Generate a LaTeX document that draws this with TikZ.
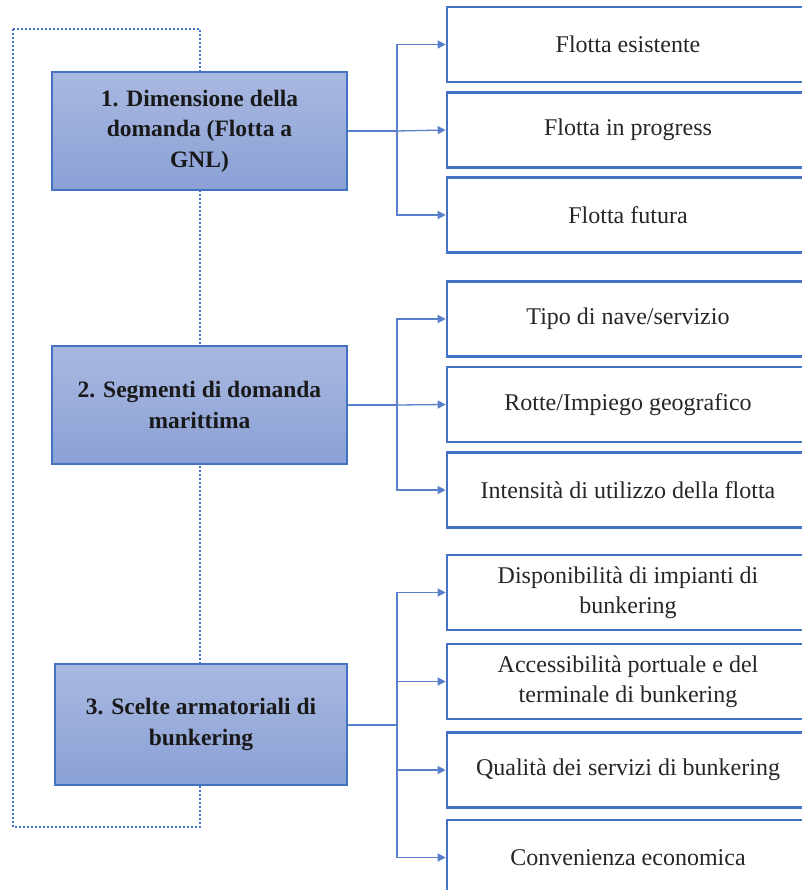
\documentclass[tikz,border=0pt]{standalone}
\usepackage{fontspec}
\setmainfont{Liberation Serif}
\usetikzlibrary{arrows.meta}
\definecolor{bord}{HTML}{4472C4}
\definecolor{conn}{HTML}{5A80CC}
\definecolor{topc}{HTML}{A9B8E0}
\definecolor{botc}{HTML}{8AA1D6}
\tikzset{
  mainbox/.style={draw=bord, line width=2pt, top color=topc, bottom color=botc,
    minimum width=295pt, minimum height=118pt, inner sep=0pt, align=center,
    font=\fontsize{23.5}{30.5}\selectfont\bfseries, text=black!90},
  subbox/.style={draw=bord, line width=2.6pt, fill=white,
    minimum width=362pt, minimum height=75pt, inner sep=0pt, align=center,
    font=\fontsize{24}{30}\selectfont, text=black!85},
  conline/.style={draw=conn, line width=1.3pt},
  arr/.style={conline, -{Triangle[length=8pt,width=8pt]}},
  frame/.style={draw=bord, line width=2.2pt, dash pattern=on 2pt off 2pt}
}
\begin{document}
\begin{tikzpicture}[x=1pt,y=-1pt]
\useasboundingbox (0,0) rectangle (801,890);
\fill[white] (0,0) rectangle (801,890);
% dotted frame
\draw[frame] (13,29) rectangle (200,827);
% main boxes
\node[mainbox] (m1) at (199.5,131) {1. Dimensione della\\domanda (Flotta a\\GNL)};
\node[mainbox] (m2) at (199.5,405) {2. Segmenti di domanda\\marittima};
\node[mainbox, minimum width=292pt, minimum height=121pt] (m3) at (201,724.5) {3. Scelte armatoriali di\\bunkering};
% sub boxes
\node[subbox] (a1) at (628,44.5) {Flotta esistente};
\node[subbox] (a2) at (628,130) {Flotta in progress};
\node[subbox] (a3) at (628,215) {Flotta futura};
\node[subbox] (b1) at (628,319) {Tipo di nave/servizio};
\node[subbox] (b2) at (628,404.5) {Rotte/Impiego geografico};
\node[subbox] (b3) at (628,490) {Intensità di utilizzo della flotta};
\node[subbox] (c1) at (628,592.5) {Disponibilità di impianti di\\bunkering};
\node[subbox] (c2) at (628,681.5) {Accessibilità portuale e del\\terminale di bunkering};
\node[subbox] (c3) at (628,770) {Qualità dei servizi di bunkering};
\node[subbox] (c4) at (628,857.5) {Convenienza economica};
% connectors
\coordinate (s1) at (397,131);
\coordinate (s2) at (397,405);
\coordinate (s3) at (397,724.5);
\draw[conline, line width=2pt] (m1.east) -- (s1);
\draw[conline, line width=2pt] (m2.east) -- (s2);
\draw[conline, line width=2pt] (m3.east) -- (s3);
\draw[arr] (s1) |- (a1.west);
\draw[arr] (s1) -- (a2.west);
\draw[arr] (s1) |- (a3.west);
\draw[arr] (s2) |- (b1.west);
\draw[arr] (s2) -- (b2.west);
\draw[arr] (s2) |- (b3.west);
\draw[arr] (s3) |- (c1.west);
\draw[arr] (s3) |- (c2.west);
\draw[arr] (s3) |- (c3.west);
\draw[arr] (s3) |- (c4.west);
\end{tikzpicture}
\end{document}
